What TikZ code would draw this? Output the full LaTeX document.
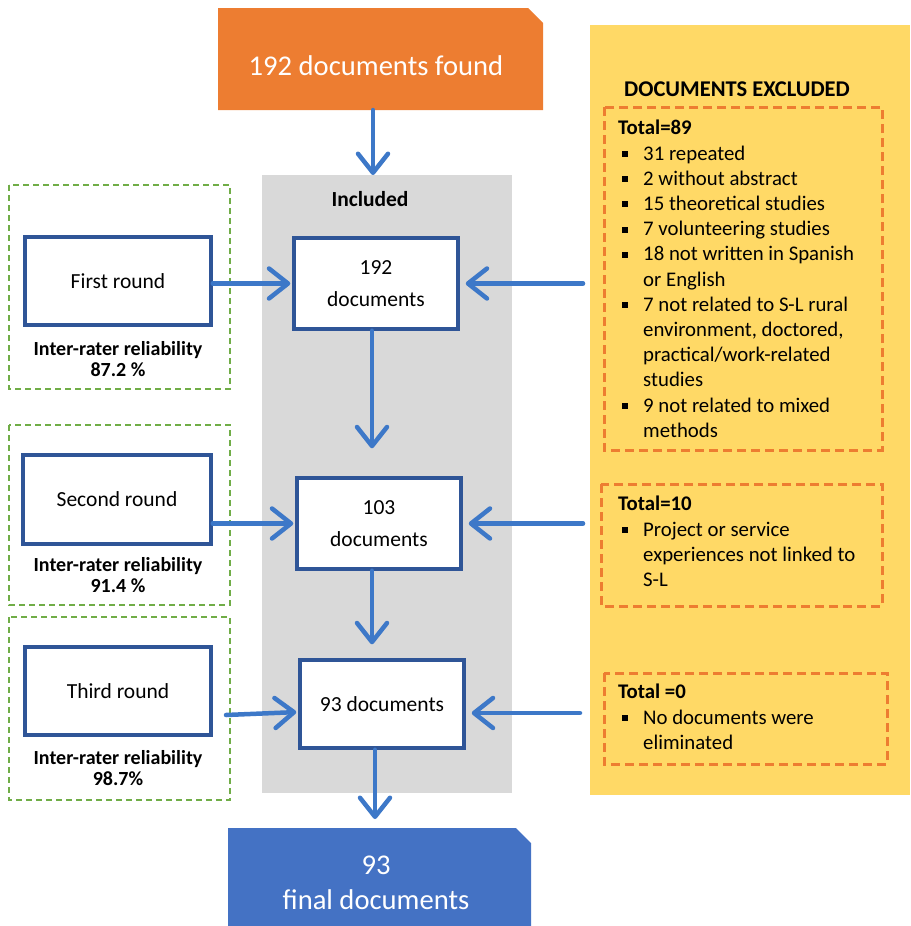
\documentclass[tikz,border=0pt]{standalone}
\usepackage{fontspec}
\setmainfont{Carlito}
\usetikzlibrary{arrows.meta,calc}
\definecolor{orangeC}{HTML}{ED7D31}
\definecolor{blueC}{HTML}{4472C4}
\definecolor{arrowC}{HTML}{3D78C8}
\definecolor{darkblue}{HTML}{2F5597}
\definecolor{greenC}{HTML}{70AD47}
\definecolor{grayC}{HTML}{D9D9D9}
\definecolor{yellowC}{HTML}{FFD966}
\newcommand{\sqbul}{\hspace*{4pt}\raisebox{3pt}{\rule{6pt}{6pt}}\hspace*{15pt}}
\tikzset{
  rbox/.style={draw=darkblue, line width=3.5pt, fill=white, inner sep=2pt,
    align=center, font=\fontsize{21.5}{32}\selectfont},
  arr/.style={draw=arrowC, line width=4.5pt, line cap=round,
    -{Straight Barb[length=19pt,width=30pt,round]}},
  gdash/.style={draw=greenC, line width=2pt, dash pattern=on 6pt off 4pt},
  odash/.style={draw=orangeC, line width=3pt, dash pattern=on 9pt off 5pt},
  reltext/.style={align=center, font=\bfseries\fontsize{20}{21}\selectfont},
  listtext/.style={anchor=north west, inner sep=0pt, font=\fontsize{20.8}{25.2}\selectfont},
}
\begin{document}
\begin{tikzpicture}[x=1pt,y=-1pt]
\useasboundingbox (0,0) rectangle (910,926);
% backgrounds
\fill[yellowC] (590,25) rectangle (910,795);
\fill[grayC] (262,175) rectangle (512,793);
% top box
\fill[orangeC] (218,8) -- (528,8) -- (543,23) -- (543,110) -- (218,110) -- cycle;
\node[text=white, font=\fontsize{28.6}{34}\selectfont, anchor=base] (found) at (376,75) {192 documents found};
% bottom box
\fill[blueC] (228,828) -- (516,828) -- (531,843) -- (531,926) -- (228,926) -- cycle;
\coordinate (fintop) at (376,828);
\node[text=white, align=center, font=\fontsize{28.6}{35}\selectfont] (final) at (376,883) {93\\final documents};
% included
\node[font=\bfseries\fontsize{21.5}{23}\selectfont] (incl) at (370,199) {Included};
\coordinate (topin) at (373,110);
\coordinate (incltop) at (373,175);
% center boxes
\node[rbox, minimum width=164pt, minimum height=91pt] (b192) at (376,283.5) {192\\documents};
\node[rbox, minimum width=164pt, minimum height=91pt] (b103) at (379,523.5) {103\\documents};
\node[rbox, minimum width=164pt, minimum height=88pt] (b93) at (382,704) {93 documents};
% left dashed groups
\draw[gdash] (9,185) rectangle (230,389);
\draw[gdash] (9,425) rectangle (230,605);
\draw[gdash] (9,617) rectangle (230,800);
\node[rbox, minimum width=186pt, minimum height=88pt] (fr) at (118,281) {First round};
\node[rbox, minimum width=188pt, minimum height=89pt] (sr) at (117,499.5) {Second round};
\node[rbox, minimum width=186pt, minimum height=88pt] (tr) at (118,691) {Third round};
\node[reltext] (rel1) at (118,359) {Inter-rater reliability\\87.2 \%};
\node[reltext] (rel2) at (118,575) {Inter-rater reliability\\91.4 \%};
\node[reltext] (rel3) at (118,768) {Inter-rater reliability\\98.7\%};
% excluded
\node[font=\bfseries\fontsize{22.5}{26}\selectfont] (exc) at (737,89) {DOCUMENTS EXCLUDED};
\draw[odash] (604,107) rectangle (882,450);
\draw[odash] (601,484) rectangle (882,606);
\draw[odash] (604,673) rectangle (887,764);
\node[listtext] (l1) at (618,117) {\begin{tabular}{@{}l@{}l@{}}
\multicolumn{2}{@{}l@{}}{\bfseries Total=89}\\
\sqbul & 31 repeated\\
\sqbul & 2 without abstract\\
\sqbul & 15 theoretical studies\\
\sqbul & 7 volunteering studies\\
\sqbul & 18 not written in Spanish\\
 & or English\\
\sqbul & 7 not related to S-L rural\\
 & environment, doctored,\\
 & practical/work-related\\
 & studies\\
\sqbul & 9 not related to mixed\\
 & methods
\end{tabular}};
\node[listtext] (l2) at (618,493) {\begin{tabular}{@{}l@{}l@{}}
\multicolumn{2}{@{}l@{}}{\bfseries Total=10}\\
\sqbul & Project or service\\
 & experiences not linked to\\
 & S-L
\end{tabular}};
\node[listtext] (l3) at (618,681) {\begin{tabular}{@{}l@{}l@{}}
\multicolumn{2}{@{}l@{}}{\bfseries Total =0}\\
\sqbul & No documents were\\
 & eliminated
\end{tabular}};
% right free ends
\coordinate (e1) at (583,283.5);
\coordinate (e2) at (583,523.5);
\coordinate (e3) at (580,713);
\coordinate (s3) at (226,715);
% arrows
\draw[arr] (topin) -- (incltop);
\draw[arr, shorten >=28pt] ([xshift=-4pt]b192.south) -- ([xshift=-4pt]b192.south |- b103.north);
\draw[arr, shorten >=14pt] ([xshift=-7pt]b103.south) -- ([xshift=-7pt]b103.south |- b93.north);
\draw[arr, shorten >=9pt] ([xshift=-7pt]b93.south) -- ([xshift=-7pt]b93.south |- fintop);
\draw[arr, shorten >=2pt] (fr.east |- b192.west) -- (b192.west);
\draw[arr, shorten >=2pt] (sr.east |- b103.west) -- (b103.west);
\draw[arr, shorten >=2pt] (s3) -- ($(b93.west)+(0,8)$);
\draw[arr, shorten >=6pt] (e1) -- (b192.east);
\draw[arr, shorten >=6pt] (e2) -- (b103.east);
\draw[arr, shorten >=6pt] (e3) -- (b93.east |- e3);
\end{tikzpicture}
\end{document}
